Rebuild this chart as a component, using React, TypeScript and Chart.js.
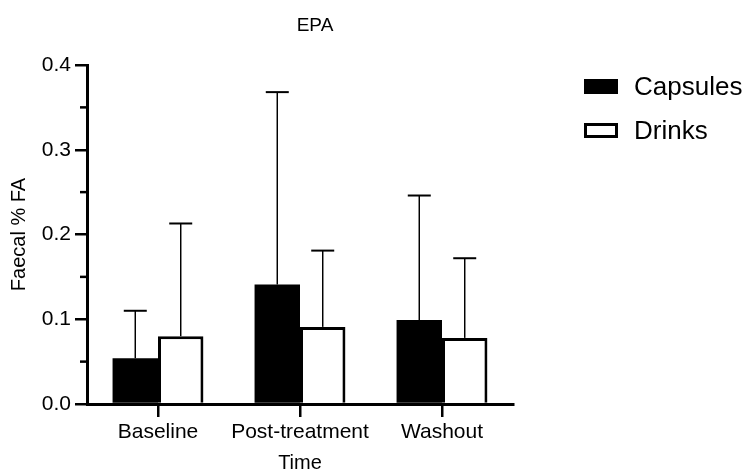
import React, { useEffect, useRef } from 'react';
import { Chart, registerables } from 'chart.js';

Chart.register(...registerables);

const categories = ['Baseline', 'Post-treatment', 'Washout'];
const seriesLabels = ['Capsules', 'Drinks'];
const capsulesMean = [0.054, 0.141, 0.099];
const capsulesSD = [0.056, 0.227, 0.147];
const drinksMean = [0.080, 0.091, 0.078];
const drinksSD = [0.133, 0.090, 0.094];
const yMinorTicks = [0.05, 0.15, 0.25, 0.35];
const titleText = 'EPA';
const xTitle = 'Time';
const yTitle = 'Faecal % FA';

const FONT = "'Liberation Sans', Arial, Helvetica, sans-serif";

const errorBars = {
  id: 'errorBars',
  afterDatasetsDraw(chart: any) {
    const ctx = chart.ctx;
    const y = chart.scales.y;
    const sds = [capsulesSD, drinksSD];
    const means = [capsulesMean, drinksMean];
    ctx.save();
    ctx.strokeStyle = '#000';
    chart.data.datasets.forEach((ds: any, i: number) => {
      const meta = chart.getDatasetMeta(i);
      meta.data.forEach((el: any, j: number) => {
        const top = y.getPixelForValue(means[i][j] + sds[i][j]);
        ctx.lineWidth = 1.5;
        ctx.beginPath();
        ctx.moveTo(el.x, el.y);
        ctx.lineTo(el.x, top);
        ctx.stroke();
        ctx.lineWidth = 2;
        ctx.beginPath();
        ctx.moveTo(el.x - 11.5, top);
        ctx.lineTo(el.x + 11.5, top);
        ctx.stroke();
      });
    });
    ctx.restore();
  },
};

const extras = {
  id: 'extras',
  afterDraw(chart: any) {
    const ctx = chart.ctx;
    const area = chart.chartArea;
    const y = chart.scales.y;
    ctx.save();
    // minor ticks
    ctx.strokeStyle = '#000';
    ctx.lineWidth = 2.5;
    yMinorTicks.forEach((v) => {
      const py = y.getPixelForValue(v);
      ctx.beginPath();
      ctx.moveTo(area.left - 7, py);
      ctx.lineTo(area.left, py);
      ctx.stroke();
    });
    // title
    ctx.fillStyle = '#000';
    ctx.font = `19px ${FONT}`;
    ctx.textAlign = 'center';
    ctx.textBaseline = 'middle';
    ctx.fillText(titleText, (area.left + area.right) / 2 + 15, 26);
    // legend
    const lx = 584;
    const ly0 = 79;
    const gap = 44;
    chart.data.datasets.forEach((ds: any, i: number) => {
      const by = ly0 + i * gap;
      if (i === 0) {
        ctx.fillStyle = '#000';
        ctx.fillRect(lx, by, 34, 15);
      } else {
        ctx.fillStyle = '#fff';
        ctx.fillRect(lx, by, 34, 15);
        ctx.lineWidth = 3;
        ctx.strokeStyle = '#000';
        ctx.strokeRect(lx + 1.5, by + 1.5, 31, 12);
      }
      ctx.fillStyle = '#000';
      ctx.font = `26px ${FONT}`;
      ctx.textAlign = 'left';
      ctx.textBaseline = 'middle';
      ctx.fillText(ds.label, 634, by + 8.5);
    });
    ctx.restore();
  },
};

export default function App() {
  const ref = useRef<HTMLCanvasElement>(null);
  useEffect(() => {
    document.body.style.margin = '0';
    const chart = new Chart(ref.current as HTMLCanvasElement, {
      type: 'bar',
      data: {
        labels: categories,
        datasets: [
          {
            label: seriesLabels[0],
            data: capsulesMean,
            backgroundColor: '#000',
            borderColor: '#000',
            borderWidth: 0,
            categoryPercentage: 0.64,
            barPercentage: 1,
          },
          {
            label: seriesLabels[1],
            data: drinksMean,
            backgroundColor: '#fff',
            borderColor: '#000',
            borderWidth: 3,
            categoryPercentage: 0.64,
            barPercentage: 1,
          },
        ],
      },
      options: {
        responsive: false,
        animation: false,
        devicePixelRatio: 1,
        layout: { padding: { top: 65, right: 234, left: 0, bottom: 0 } },
        plugins: {
          legend: { display: false },
          title: { display: false },
          tooltip: { enabled: false },
        },
        scales: {
          x: {
            type: 'category',
            grid: {
              display: true,
              drawOnChartArea: false,
              drawTicks: true,
              tickLength: 13,
              lineWidth: 2.5,
              color: '#000',
              offset: false,
            },
            border: { display: true, width: 3, color: '#000' },
            ticks: {
              color: '#000',
              font: { size: 21, family: FONT },
              padding: 3,
              maxRotation: 0,
              minRotation: 0,
              autoSkip: false,
            },
            title: {
              display: true,
              text: xTitle,
              color: '#000',
              font: { size: 20, family: FONT },
              padding: { top: -2, bottom: 0 },
            },
            afterFit: (s: any) => {
              s.height = 71;
            },
          },
          y: {
            min: 0,
            max: 0.4,
            grid: {
              display: true,
              drawOnChartArea: false,
              drawTicks: true,
              tickLength: 12,
              lineWidth: 2.5,
              color: '#000',
            },
            border: { display: true, width: 3, color: '#000' },
            ticks: {
              stepSize: 0.1,
              color: '#000',
              font: { size: 21, family: FONT },
              padding: 4,
              callback: (v: any) => Number(v).toFixed(1),
            },
            title: {
              display: true,
              text: yTitle,
              color: '#000',
              font: { size: 20, family: FONT },
              padding: { top: 7, bottom: 0 },
            },
            afterFit: (s: any) => {
              s.width = 87;
            },
          },
        },
      },
      plugins: [errorBars, extras],
    });
    return () => chart.destroy();
  }, []);
  return (
    <div style={{ width: 747, height: 475 }}>
      <canvas ref={ref} width={747} height={475} style={{ display: 'block' }} />
    </div>
  );
}
